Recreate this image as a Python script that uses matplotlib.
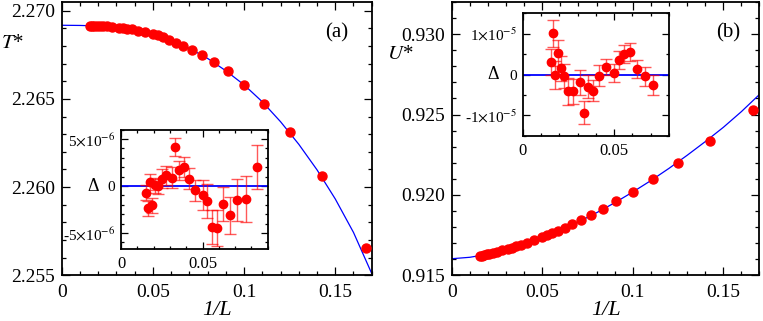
import matplotlib
matplotlib.use("Agg")
import matplotlib.pyplot as plt
from matplotlib.ticker import MultipleLocator

plt.rcParams['font.family'] = ['Liberation Serif', 'DejaVu Serif']
plt.rcParams['mathtext.fontset'] = 'stix'

# lattice sizes and main data
sizes = [6, 7, 8, 9, 10, 11, 12, 13, 14, 15, 16, 17, 18, 19, 20, 22, 24, 26, 28, 30,
         32, 36, 40, 44, 48, 52, 56, 60, 64]
T_star = [2.25657, 2.26065, 2.26312, 2.26474, 2.26580, 2.26656, 2.26709, 2.26749,
          2.26779, 2.26801, 2.26820, 2.26835, 2.26851, 2.26862, 2.26868, 2.26879,
          2.26888, 2.26894, 2.26898, 2.26902, 2.26904, 2.26908, 2.26911, 2.26912,
          2.26913, 2.26914, 2.26915, 2.26916, 2.26916]
U_star = [0.92527, 0.92334, 0.92196, 0.92098, 0.92018, 0.91960, 0.91913, 0.91875,
          0.91842, 0.91818, 0.91797, 0.91778, 0.91761, 0.91749, 0.91737, 0.91718,
          0.91703, 0.91691, 0.91680, 0.91672, 0.91666, 0.91655, 0.91647, 0.91640,
          0.91635, 0.91630, 0.91626, 0.91622, 0.91619]

# fitted curves
fit_x = [0.0, 0.01, 0.02, 0.03, 0.04, 0.05, 0.06, 0.07, 0.08, 0.09, 0.10, 0.11,
         0.12, 0.13, 0.14, 0.15, 0.16, 0.17]
fit_T = [2.26918, 2.26917, 2.26914, 2.26906, 2.26891, 2.26868, 2.26833, 2.26787,
         2.26730, 2.26660, 2.26580, 2.26484, 2.26371, 2.26243, 2.26098, 2.25933,
         2.25743, 2.25510]
fit_U = [0.91603, 0.91612, 0.91631, 0.91659, 0.91693, 0.91733, 0.91780, 0.91832,
         0.91889, 0.91951, 0.92018, 0.92089, 0.92165, 0.92246, 0.92331, 0.92420,
         0.92518, 0.92625]

# residuals (inset a)
res_T_sizes = [12, 13, 14, 15, 16, 17, 18, 19, 20, 22, 24, 26, 28, 30, 32, 36, 40,
               44, 48, 52, 56, 60, 64]
res_T = [2.06e-6, -1.35e-6, -1.49e-6, -3.12e-6, -1.91e-6, -4.43e-6, -4.36e-6,
         -1.6e-6, -0.92e-6, -0.46e-6, 0.78e-6, 2.02e-6, 1.67e-6, 4.15e-6, 0.89e-6,
         1.13e-6, 0.78e-6, 0.0, 0.07e-6, -2.06e-6, 0.43e-6, -2.34e-6, -0.71e-6]
res_T_err = [2.35e-6, 2.45e-6, 2.2e-6, 1.95e-6, 1.85e-6, 1.9e-6, 1.85e-6, 1.8e-6,
             1.6e-6, 1.1e-6, 1.1e-6, 1.05e-6, 1.0e-6, 1.0e-6, 1.1e-6, 1.0e-6, 1.0e-6,
             0.8e-6, 0.8e-6, 0.8e-6, 0.9e-6, 0.8e-6, 0.8e-6]

# residuals (inset b)
res_U_sizes = [14, 15, 16, 17, 18, 19, 20, 22, 24, 26, 28, 30, 32, 36, 40, 44, 48,
               52, 56, 60, 64]
res_U = [-2.6e-6, -0.4e-6, 1.4e-6, 5.6e-6, 5.0e-6, 3.5e-6, 0.4e-6, 1.8e-6, -0.25e-6,
         -4.0e-6, -3.0e-6, -9.4e-6, -1.9e-6, -4.1e-6, -4.1e-6, -0.4e-6, 1.5e-6,
         5.3e-6, -0.16e-6, 10.1e-6, 3.1e-6]
res_U_err = [2.4e-6, 2.3e-6, 2.3e-6, 2.2e-6, 2.2e-6, 2.2e-6, 2.3e-6, 2.0e-6, 2.5e-6,
             2.6e-6, 2.8e-6, 2.8e-6, 3.0e-6, 3.0e-6, 3.3e-6, 3.0e-6, 3.0e-6, 3.1e-6,
             3.4e-6, 3.3e-6, 3.2e-6]

inv_L = [1.0 / L for L in sizes]
inv_LT = [1.0 / L for L in res_T_sizes]
inv_LU = [1.0 / L for L in res_U_sizes]


def style(ax, size, major, minor):
    ax.tick_params(which='both', direction='in', top=True, right=True, labelsize=size)
    ax.tick_params(which='major', length=major, width=0.9)
    ax.tick_params(which='minor', length=minor, width=0.9)
    for s in ax.spines.values():
        s.set_linewidth(1.3)


fig = plt.figure(figsize=(7.63, 3.21), dpi=100)

# ---- panel (a)
ax1 = fig.add_axes([0.0809, 0.1424, 0.4063, 0.8514])
ax1.plot(fit_x, fit_T, color='#0000ff', lw=0.9, zorder=2)
ax1.plot(inv_L, T_star, 'o', color='#ff0000', ms=6.5, zorder=3, clip_on=False)
ax1.set_xlim(0, 0.17)
ax1.set_ylim(2.255, 2.2705)
ax1.set_xticks([0, 0.05, 0.1, 0.15], ['0', '0.05', '0.1', '0.15'])
ax1.set_yticks([2.255, 2.260, 2.265, 2.270], ['2.255', '2.260', '2.265', '2.270'])
ax1.xaxis.set_minor_locator(MultipleLocator(0.01))
ax1.yaxis.set_minor_locator(MultipleLocator(0.001))
style(ax1, 14, 6, 3)
ax1.tick_params(axis='x', pad=6)
ax1.tick_params(axis='y', pad=5)
ax1.set_xlabel('1/L', fontsize=16, fontstyle='italic', labelpad=0)
fig.text(0.016, 0.865, '$T$*', fontsize=15, ha='center', va='center')
ax1.text(0.924, 0.886, '(a)', transform=ax1.transAxes, fontsize=15, ha='right', va='center')

in1 = fig.add_axes([0.1586, 0.2243, 0.1923, 0.3717])
in1.errorbar(inv_LT, res_T, yerr=res_T_err, fmt='o', color='#ff0000', ms=6,
             ecolor=(1, 0, 0, 0.65), elinewidth=1, capsize=4, capthick=1, zorder=3)
in1.axhline(0, color='#0000ff', lw=1.3, zorder=2)
in1.set_xlim(0, 0.09)
in1.set_ylim(-6.7e-6, 6.0e-6)
in1.set_xticks([0, 0.05], ['0', '0.05'])
in1.set_yticks([-5e-6, 0, 5e-6], [r'-5$\times$10$^{-6}$', '0', r'5$\times$10$^{-6}$'])
in1.xaxis.set_minor_locator(MultipleLocator(0.01))
in1.yaxis.set_minor_locator(MultipleLocator(1e-6))
style(in1, 11, 5, 2.5)
in1.tick_params(axis='x', pad=5, labelsize=12)
in1.tick_params(axis='y', pad=4)
in1.text(-0.19, 0.5276, 'Δ', transform=in1.transAxes, fontsize=13, ha='center', va='center')

# ---- panel (b)
ax2 = fig.add_axes([0.592, 0.1424, 0.4034, 0.8514])
ax2.plot(fit_x, fit_U, color='#0000ff', lw=0.9, zorder=2)
ax2.plot(inv_L, U_star, 'o', color='#ff0000', ms=6.5, zorder=3, clip_on=False)
ax2.set_xlim(0, 0.17)
ax2.set_ylim(0.915, 0.932)
ax2.set_xticks([0, 0.05, 0.1, 0.15], ['0', '0.05', '0.1', '0.15'])
ax2.set_yticks([0.915, 0.920, 0.925, 0.930], ['0.915', '0.920', '0.925', '0.930'])
ax2.xaxis.set_minor_locator(MultipleLocator(0.01))
ax2.yaxis.set_minor_locator(MultipleLocator(0.001))
style(ax2, 14, 6, 3)
ax2.tick_params(axis='x', pad=6)
ax2.tick_params(axis='y', pad=5)
ax2.set_xlabel('1/L', fontsize=16, fontstyle='italic', labelpad=0)
fig.text(0.524, 0.83, '$U$*', fontsize=15, ha='center', va='center')
ax2.text(0.937, 0.886, '(b)', transform=ax2.transAxes, fontsize=15, ha='right', va='center')

in2 = fig.add_axes([0.685, 0.5773, 0.1917, 0.3807])
in2.errorbar(inv_LU, res_U, yerr=res_U_err, fmt='o', color='#ff0000', ms=6,
             ecolor=(1, 0, 0, 0.65), elinewidth=1, capsize=4, capthick=1, zorder=3)
in2.axhline(0, color='#0000ff', lw=1.3, zorder=2)
in2.set_xlim(0, 0.08)
in2.set_ylim(-1.5e-5, 1.5e-5)
in2.set_xticks([0, 0.05], ['0', '0.05'])
in2.set_yticks([-1e-5, 0, 1e-5], [r'-1$\times$10$^{-5}$', '0', r'1$\times$10$^{-5}$'])
in2.xaxis.set_minor_locator(MultipleLocator(0.01))
in2.yaxis.set_minor_locator(MultipleLocator(5e-6))
style(in2, 11, 5, 2.5)
in2.tick_params(axis='x', pad=5, labelsize=12)
in2.tick_params(axis='y', pad=4)
in2.text(-0.2, 0.5, 'Δ', transform=in2.transAxes, fontsize=13, ha='center', va='center')

fig.savefig('out.png', dpi=100)
